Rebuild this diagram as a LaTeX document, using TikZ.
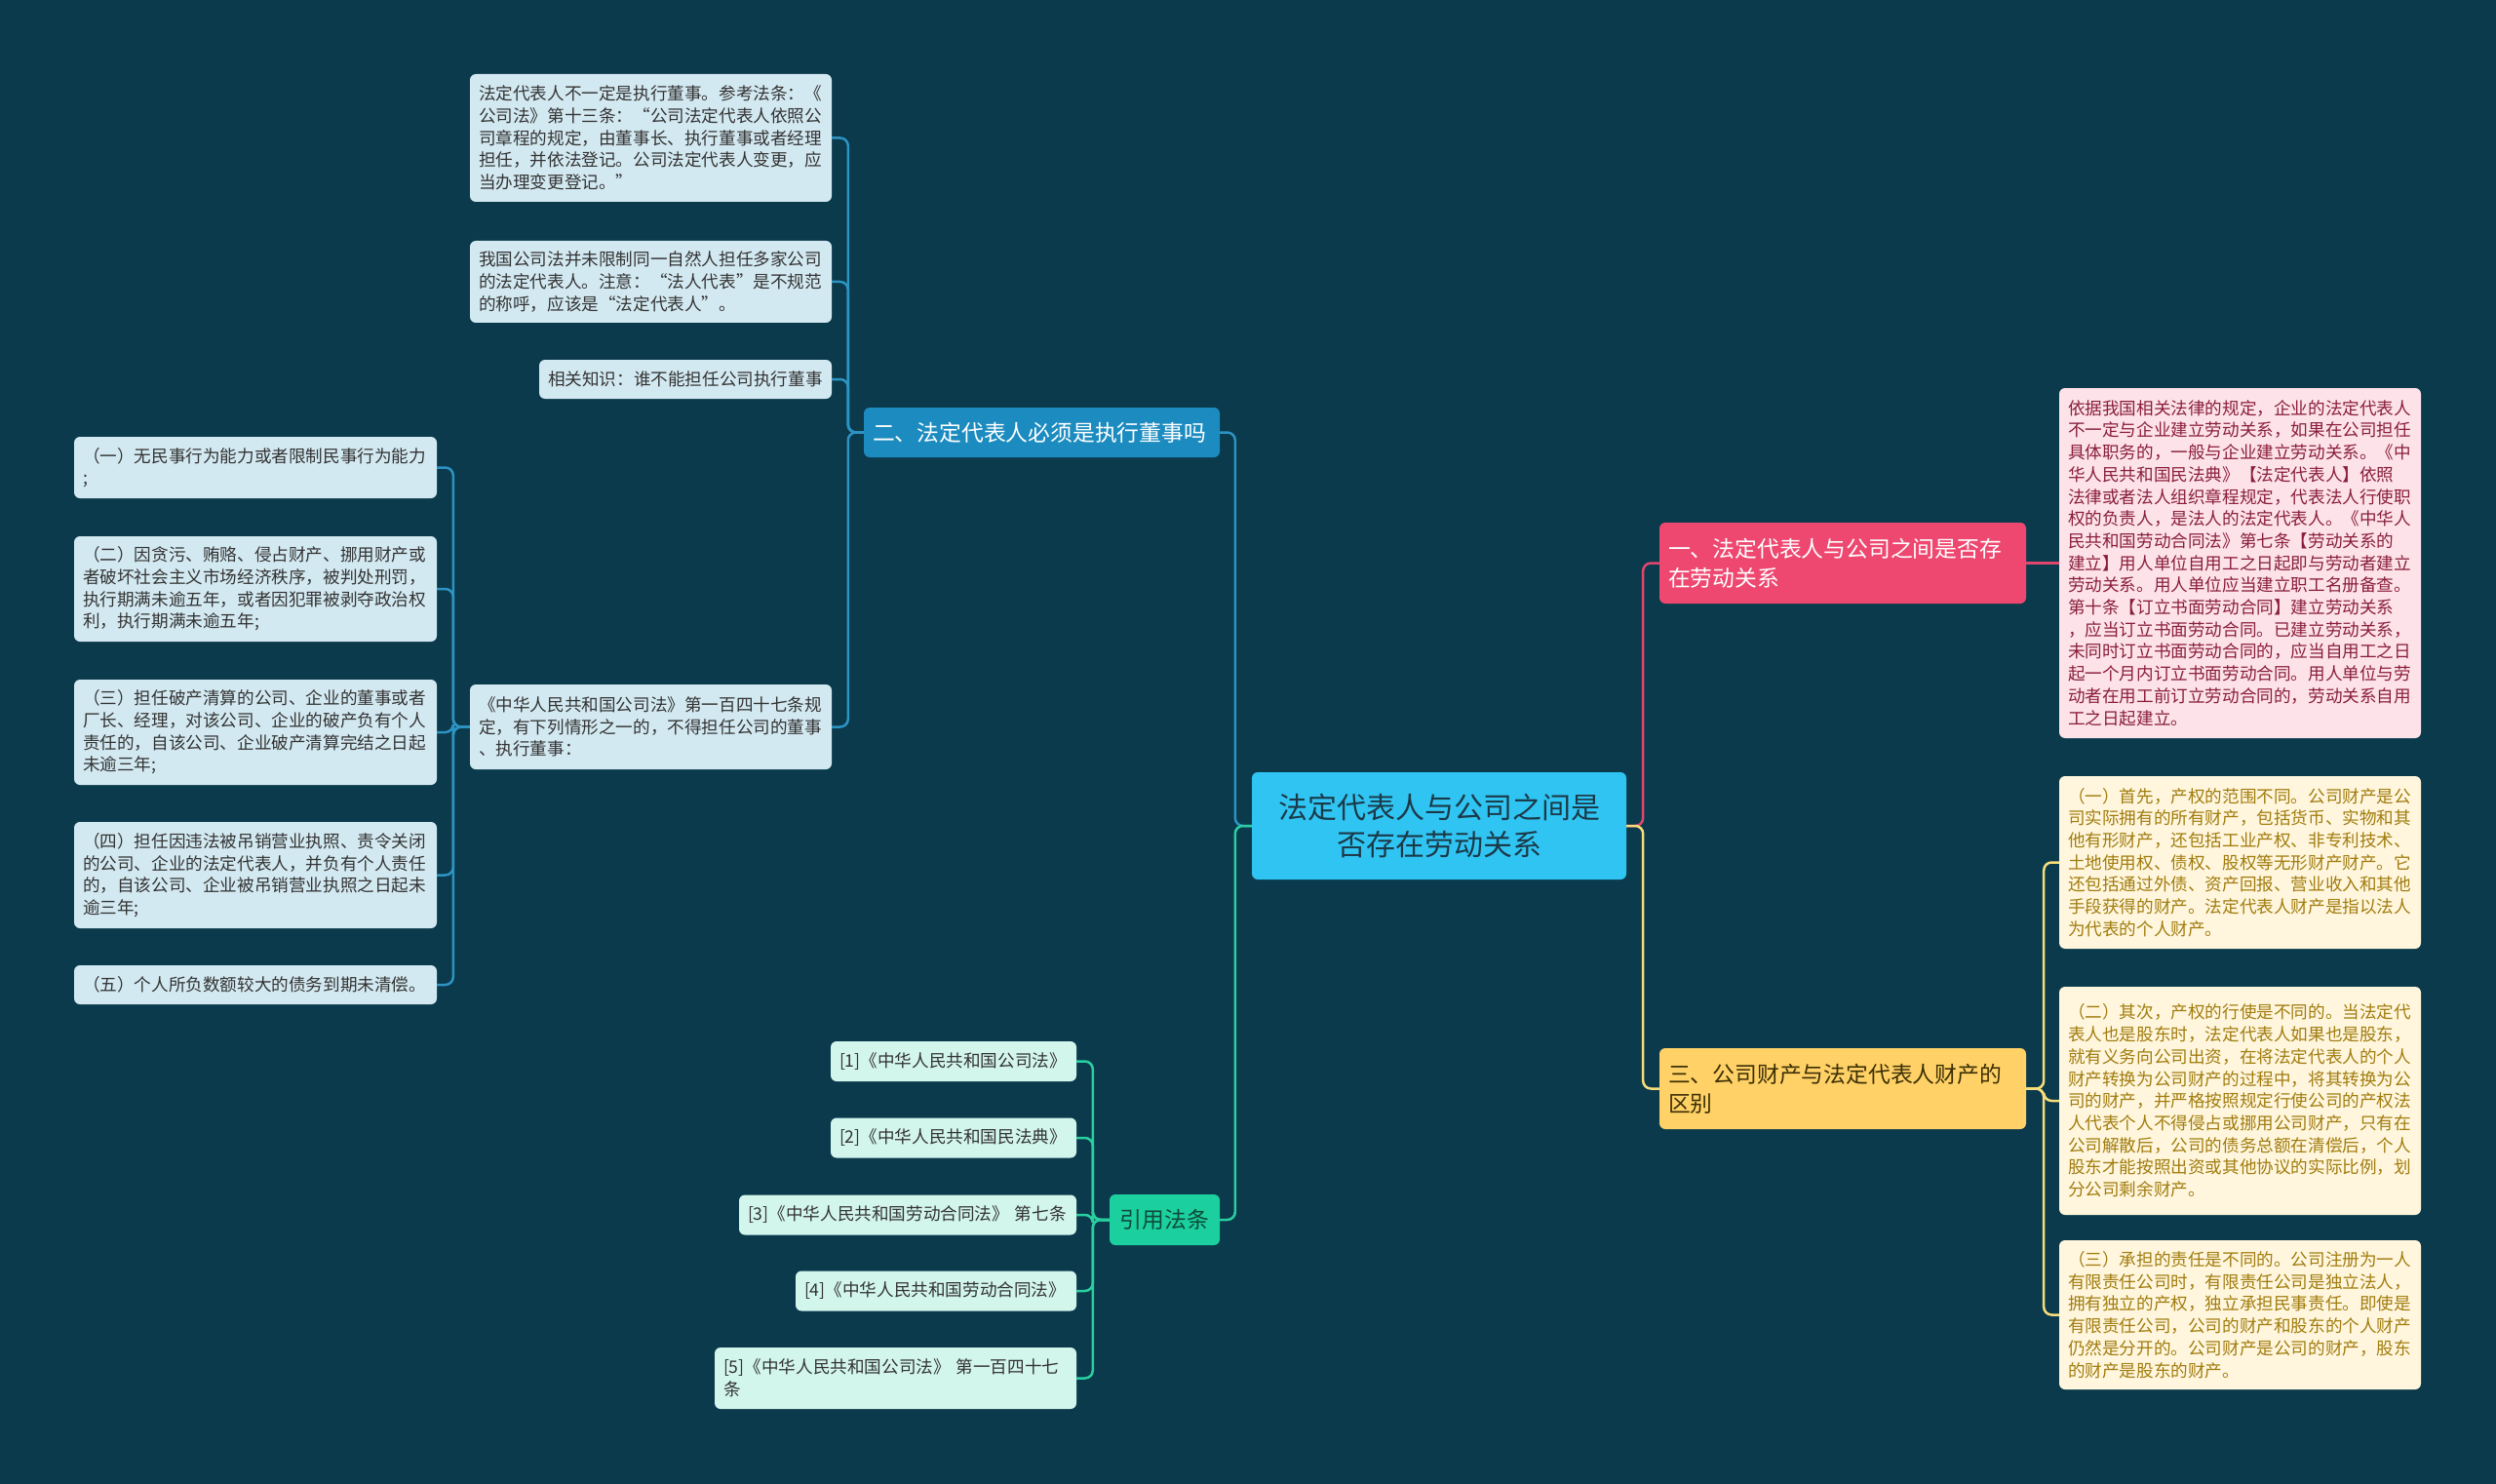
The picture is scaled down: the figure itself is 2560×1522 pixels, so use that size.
\documentclass[tikz,border=0pt]{standalone}
\usepackage{fontspec}
\setmainfont{Noto Sans CJK SC}
\definecolor{bg}{HTML}{0A3A4C}
\definecolor{cen}{HTML}{30C4F3}
\definecolor{cenText}{HTML}{1B3A48}
\definecolor{blueB}{HTML}{1C8CC0}
\definecolor{blueLine}{HTML}{2D93C3}
\definecolor{blueLeaf}{HTML}{D3E9F1}
\definecolor{pinkB}{HTML}{EE4870}
\definecolor{pinkLine}{HTML}{E0466E}
\definecolor{pinkLeaf}{HTML}{FDE3E9}
\definecolor{pinkText}{HTML}{8A1E3C}
\definecolor{yelB}{HTML}{FFD166}
\definecolor{yelBText}{HTML}{3B2F05}
\definecolor{yelLine}{HTML}{F8DD7A}
\definecolor{yelLeaf}{HTML}{FFF6DD}
\definecolor{yelText}{HTML}{A17C0E}
\definecolor{grnB}{HTML}{1CCF9E}
\definecolor{grnText}{HTML}{0E4A3A}
\definecolor{grnLine}{HTML}{2ACFA0}
\definecolor{grnLeaf}{HTML}{D2F5EC}
\definecolor{darkText}{HTML}{333333}
\begin{document}
\begin{tikzpicture}[x=1pt,y=-1pt,
  box/.style={rounded corners=6pt, inner xsep=9pt, inner ysep=0pt, anchor=center, align=left},
  leaffont/.style={font=\fontsize{17.6pt}{22.7pt}\selectfont},
  branchfont/.style={font=\fontsize{22.8pt}{30pt}\selectfont},
  blueleaf/.style={box, leaffont, fill=blueLeaf, text=darkText},
  pinkleaf/.style={box, leaffont, fill=pinkLeaf, text=pinkText},
  yelleaf/.style={box, leaffont, fill=yelLeaf, text=yelText},
  grnleaf/.style={box, leaffont, fill=grnLeaf, text=darkText},
  conn/.style={line width=2.5pt, rounded corners=8pt},
]
\fill[bg] (0,0) rectangle (2560,1522);
\useasboundingbox (0,0) rectangle (2560,1522);

% central
\node[box, fill=cen, text=cenText, align=center, minimum width=384pt, minimum height=110pt, text width=366pt,
  font=\fontsize{30pt}{38pt}\selectfont] (C) at (1476,847) {法定代表人与公司之间是\\否存在劳动关系};

% branch 1 (pink)
\node[box, branchfont, fill=pinkB, text=white, minimum width=376pt, minimum height=83pt, text width=358pt] (B1) at (1890,577.5)
  {一、法定代表人与公司之间是否存\\在劳动关系};
\node[pinkleaf, minimum width=371pt, minimum height=359pt, text width=353pt] (PL) at (2297.5,577.5)
  {依据我国相关法律的规定，企业的法定代表人\\
不一定与企业建立劳动关系，如果在公司担任\\
具体职务的，一般与企业建立劳动关系。《中\\
华人民共和国民法典》【法定代表人】依照\\
法律或者法人组织章程规定，代表法人行使职\\
权的负责人，是法人的法定代表人。《中华人\\
民共和国劳动合同法》第七条【劳动关系的\\
建立】用人单位自用工之日起即与劳动者建立\\
劳动关系。用人单位应当建立职工名册备查。\\
第十条【订立书面劳动合同】建立劳动关系\\
，应当订立书面劳动合同。已建立劳动关系，\\
未同时订立书面劳动合同的，应当自用工之日\\
起一个月内订立书面劳动合同。用人单位与劳\\
动者在用工前订立劳动合同的，劳动关系自用\\
工之日起建立。};

% branch 3 (yellow)
\node[box, branchfont, fill=yelB, text=yelBText, minimum width=376pt, minimum height=83pt, text width=358pt] (B3) at (1890,1116.5)
  {三、公司财产与法定代表人财产的\\区别};
\node[yelleaf, minimum width=371pt, minimum height=177pt, text width=353pt] (Y1) at (2297.5,884.5)
  {（一）首先，产权的范围不同。公司财产是公\\
司实际拥有的所有财产，包括货币、实物和其\\
他有形财产，还包括工业产权、非专利技术、\\
土地使用权、债权、股权等无形财产财产。它\\
还包括通过外债、资产回报、营业收入和其他\\
手段获得的财产。法定代表人财产是指以法人\\
为代表的个人财产。};
\node[yelleaf, minimum width=371pt, minimum height=234pt, text width=353pt] (Y2) at (2297.5,1129)
  {（二）其次，产权的行使是不同的。当法定代\\
表人也是股东时，法定代表人如果也是股东，\\
就有义务向公司出资，在将法定代表人的个人\\
财产转换为公司财产的过程中，将其转换为公\\
司的财产，并严格按照规定行使公司的产权法\\
人代表个人不得侵占或挪用公司财产，只有在\\
公司解散后，公司的债务总额在清偿后，个人\\
股东才能按照出资或其他协议的实际比例，划\\
分公司剩余财产。};
\node[yelleaf, minimum width=371pt, minimum height=153pt, text width=353pt] (Y3) at (2297.5,1348.5)
  {（三）承担的责任是不同的。公司注册为一人\\
有限责任公司时，有限责任公司是独立法人，\\
拥有独立的产权，独立承担民事责任。即使是\\
有限责任公司，公司的财产和股东的个人财产\\
仍然是分开的。公司财产是公司的财产，股东\\
的财产是股东的财产。};

% branch 2 (blue)
\node[box, branchfont, fill=blueB, text=white, minimum width=365pt, minimum height=51pt, text width=347pt] (B2) at (1068.5,443.5)
  {二、法定代表人必须是执行董事吗};
\node[blueleaf, minimum width=371pt, minimum height=131pt, text width=353pt] (L1) at (667.5,141.5)
  {法定代表人不一定是执行董事。参考法条：《\\
公司法》第十三条：“公司法定代表人依照公\\
司章程的规定，由董事长、执行董事或者经理\\
担任，并依法登记。公司法定代表人变更，应\\
当办理变更登记。”};
\node[blueleaf, minimum width=371pt, minimum height=84pt, text width=353pt] (L2) at (667.5,289)
  {我国公司法并未限制同一自然人担任多家公司\\
的法定代表人。注意：“法人代表”是不规范\\
的称呼，应该是“法定代表人”。};
\node[blueleaf, minimum width=300pt, minimum height=40pt, text width=282pt] (L3) at (703,389)
  {相关知识：谁不能担任公司执行董事};
\node[blueleaf, minimum width=371pt, minimum height=87pt, text width=353pt] (L4) at (667.5,745.5)
  {《中华人民共和国公司法》第一百四十七条规\\
定，有下列情形之一的，不得担任公司的董事\\
、执行董事：};
\node[blueleaf, minimum width=372pt, minimum height=63pt, text width=354pt] (I1) at (262,479.5)
  {（一）无民事行为能力或者限制民事行为能力\\;};
\node[blueleaf, minimum width=372pt, minimum height=108pt, text width=354pt] (I2) at (262,604)
  {（二）因贪污、贿赂、侵占财产、挪用财产或\\
者破坏社会主义市场经济秩序，被判处刑罚，\\
执行期满未逾五年，或者因犯罪被剥夺政治权\\
利，执行期满未逾五年;};
\node[blueleaf, minimum width=372pt, minimum height=108pt, text width=354pt] (I3) at (262,751)
  {（三）担任破产清算的公司、企业的董事或者\\
厂长、经理，对该公司、企业的破产负有个人\\
责任的，自该公司、企业破产清算完结之日起\\
未逾三年;};
\node[blueleaf, minimum width=372pt, minimum height=109pt, text width=354pt] (I4) at (262,897.5)
  {（四）担任因违法被吊销营业执照、责令关闭\\
的公司、企业的法定代表人，并负有个人责任\\
的，自该公司、企业被吊销营业执照之日起未\\
逾三年;};
\node[blueleaf, minimum width=372pt, minimum height=40pt, text width=354pt] (I5) at (262,1010)
  {（五）个人所负数额较大的债务到期未清偿。};

% cite (green)
\node[box, branchfont, fill=grnB, text=grnText, align=center, minimum width=113pt, minimum height=52pt, text width=95pt] (CT) at (1194.5,1251)
  {引用法条};
\node[grnleaf, minimum width=252pt, minimum height=41pt, text width=234pt] (C1) at (978,1088.5)
  {[1]《中华人民共和国公司法》};
\node[grnleaf, minimum width=252pt, minimum height=41pt, text width=234pt] (C2) at (978,1167)
  {[2]《中华人民共和国民法典》};
\node[grnleaf, minimum width=346pt, minimum height=41pt, text width=328pt] (C3) at (931,1246)
  {[3]《中华人民共和国劳动合同法》 第七条};
\node[grnleaf, minimum width=288pt, minimum height=41pt, text width=270pt] (C4) at (960,1324)
  {[4]《中华人民共和国劳动合同法》};
\node[grnleaf, minimum width=371pt, minimum height=63pt, text width=353pt] (C5) at (918.5,1413.5)
  {[5]《中华人民共和国公司法》 第一百四十七\\条};

% connectors
\draw[conn, pinkLine] (C.east) -- ++(17,0) |- (B1.west);
\draw[conn, yelLine] (C.east) -- ++(17,0) |- (B3.west);
\draw[conn, blueLine] (C.west) -- ++(-17,0) |- (B2.east);
\draw[conn, grnLine] (C.west) -- ++(-17,0) |- (CT.east);

\draw[conn, pinkLine] (B1.east) -- (PL.west);

\foreach \n in {Y1,Y2,Y3}
  \draw[conn, yelLine] (B3.east) -- ++(18,0) |- (\n.west);

\foreach \n in {L1,L2,L3,L4}
  \draw[conn, blueLine] (B2.west) -- ++(-16,0) |- (\n.east);

\foreach \n in {I1,I2,I3,I4,I5}
  \draw[conn, blueLine] (L4.west) -- ++(-17,0) |- (\n.east);

\foreach \n in {C1,C2,C3,C4,C5}
  \draw[conn, grnLine] (CT.west) -- ++(-17,0) |- (\n.east);
\end{tikzpicture}
\end{document}
